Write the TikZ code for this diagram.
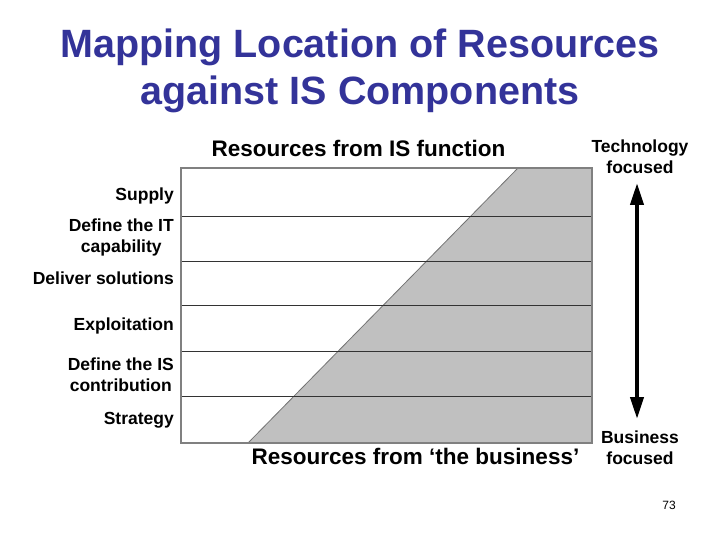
\documentclass[tikz,border=0pt]{standalone}
\usepackage{fontspec}
\setmainfont{Liberation Sans}
\usetikzlibrary{arrows.meta}
\definecolor{titleblue}{HTML}{333399}
\definecolor{shade}{HTML}{C0C0C0}

\begin{document}
\begin{tikzpicture}[x=1pt, y=-1pt, every node/.style={font=\bfseries\fontsize{17.5}{21}\selectfont, inner sep=0pt}]
\useasboundingbox (0,0) rectangle (720,540);

\node[anchor=base, color=titleblue, font=\bfseries\fontsize{39.5}{47}\selectfont] (title top) at (360, 58) {Mapping Location of Resources};
\node[anchor=base, color=titleblue, font=\bfseries\fontsize{39.5}{47}\selectfont] (title bottom) at (360, 105) {against IS Components};

\fill[color=shade] (518, 168) -- (592, 168) -- (592, 443) -- (248, 443) -- cycle;
\draw[color=gray!90!black, line width=0.8] (248, 443) -- (518, 168);
\foreach \y in {216, 261, 305, 351, 396}
  \draw[color=black!80, line width=0.8] (181, \y) -- (592, \y);
\draw[color=gray, line width=1.5] (181, 168) rectangle (592, 443);

\node[anchor=base, font=\bfseries\fontsize{22.5}{26}\selectfont] (is function) at (358.5, 157) {Resources from IS function};
\node[anchor=base, font=\bfseries\fontsize{22.5}{26}\selectfont] (business) at (415.5, 464) {Resources from `the business'};

\node[anchor=east] (supply) at (174, 196) {Supply};
\node[anchor=east, align=center] (define it) at (174, 237) {Define the IT\\capability};
\node[anchor=east] (deliver) at (174, 278) {Deliver solutions};
\node[anchor=east] (exploitation) at (174, 326) {Exploitation};
\node[anchor=east, align=center] (define is) at (174, 375) {Define the IS\\contribution};
\node[anchor=east] (strategy) at (174, 420) {Strategy};

\node[align=center] (technology) at (640, 157) {Technology\\focused};
\node[align=center] (business focused) at (640, 448) {Business\\focused};
\coordinate (top tip) at (637, 183);
\coordinate (bottom tip) at (637, 419);
\draw[{Triangle[width=13, length=22]}-{Triangle[width=13, length=22]}, line width=4] (top tip) -- (bottom tip);

\node[font=\fontsize{12}{14}\selectfont] (page) at (669, 505) {73};
\end{tikzpicture}
\end{document}
